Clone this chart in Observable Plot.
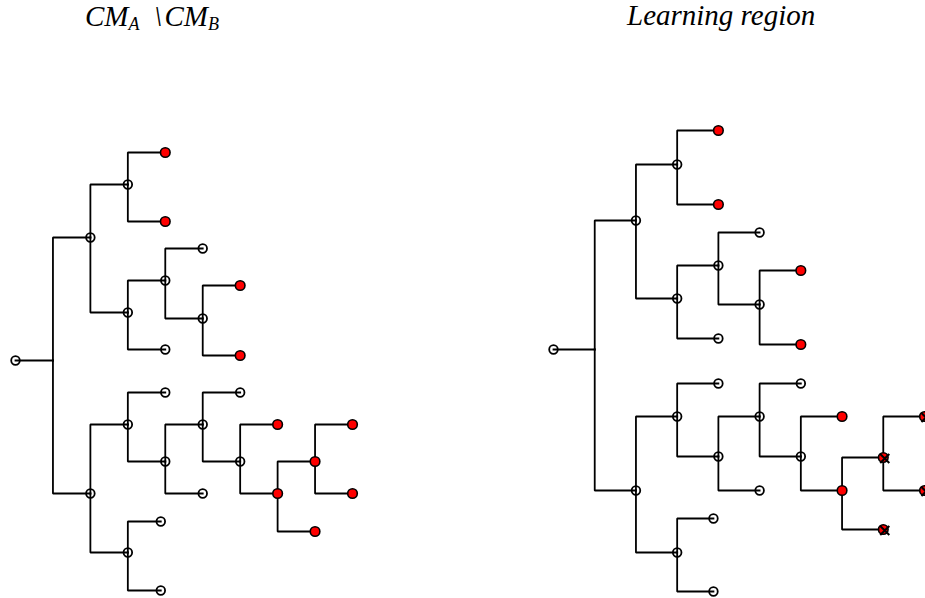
<!DOCTYPE html>
<html>
<head>
<meta charset="utf-8">
<script src="https://cdn.jsdelivr.net/npm/d3@7"></script>
<script src="https://cdn.jsdelivr.net/npm/@observablehq/plot@0.6"></script>
<style>
  html, body { margin: 0; padding: 0; background: #fff; overflow: hidden; }
  #wrap { display: flex; width: 925px; height: 598px; }
  .panel { position: relative; }
  .title { position: absolute; font-family: "Liberation Serif", "Times New Roman", serif; font-style: italic;
           font-size: 29px; line-height: 29px; white-space: nowrap; color: #000; }
  .title sub { font-size: 18px; vertical-align: -4px; line-height: 0; }
  .panel svg { display: block; overflow: visible; }
</style>
</head>
<body>
<div id="wrap"></div>
<script>
// Titles of the two panels
const titles = ["CM<sub>A</sub>&ensp;\\&#8202;CM<sub>B</sub>", "Learning region"];

// Tree nodes: [id, parent, depth, vertical position, kind]
// kind: "open" = hollow node, "red" = red node, "redx" = red node crossed out, "none" = hidden junction
const leftTree = [
  ["r", null, 0, 360, "open"],
  ["j", "r", 1, 360, "none"],
  ["A", "j", 2, 237, "open"],
  ["B", "j", 2, 493, "open"],
  ["AA", "A", 3, 184, "open"],
  ["AB", "A", 3, 312, "open"],
  ["AA1", "AA", 4, 152, "red"],
  ["AA2", "AA", 4, 221, "red"],
  ["ABA", "AB", 4, 280, "open"],
  ["AB2", "AB", 4, 349, "open"],
  ["ABA1", "ABA", 5, 248, "open"],
  ["ABAB", "ABA", 5, 318, "open"],
  ["ABAB1", "ABAB", 6, 285, "red"],
  ["ABAB2", "ABAB", 6, 355, "red"],
  ["BA", "B", 3, 424, "open"],
  ["BB", "B", 3, 552, "open"],
  ["BA1", "BA", 4, 392, "open"],
  ["BAB", "BA", 4, 461, "open"],
  ["BABA", "BAB", 5, 424, "open"],
  ["BAB2", "BAB", 5, 493, "open"],
  ["BABA1", "BABA", 6, 392, "open"],
  ["BABAB", "BABA", 6, 461, "open"],
  ["BABAB1", "BABAB", 7, 424, "red"],
  ["BABABB", "BABAB", 7, 493, "red"],
  ["BABABBA", "BABABB", 8, 461, "red"],
  ["BABABB2", "BABABB", 8, 531, "red"],
  ["BABABBA1", "BABABBA", 9, 424, "red"],
  ["BABABBA2", "BABABBA", 9, 493, "red"],
  ["BB1", "BB", 3.88, 521, "open"],
  ["BB2", "BB", 3.88, 590, "open"]
];

const rightTree = [
  ["r", null, 0, 349, "open"],
  ["j", "r", 1, 349, "none"],
  ["A", "j", 2, 220, "open"],
  ["B", "j", 2, 490, "open"],
  ["AA", "A", 3, 164, "open"],
  ["AB", "A", 3, 298, "open"],
  ["AA1", "AA", 4, 130, "red"],
  ["AA2", "AA", 4, 204, "red"],
  ["ABA", "AB", 4, 265, "open"],
  ["AB2", "AB", 4, 338, "open"],
  ["ABA1", "ABA", 5, 232, "open"],
  ["ABAB", "ABA", 5, 304, "open"],
  ["ABAB1", "ABAB", 6, 270, "red"],
  ["ABAB2", "ABAB", 6, 344, "red"],
  ["BA", "B", 3, 416, "open"],
  ["BB", "B", 3, 552, "open"],
  ["BA1", "BA", 4, 383, "open"],
  ["BAB", "BA", 4, 456, "open"],
  ["BABA", "BAB", 5, 416, "open"],
  ["BAB2", "BAB", 5, 490, "open"],
  ["BABA1", "BABA", 6, 383, "open"],
  ["BABAB", "BABA", 6, 456, "open"],
  ["BABAB1", "BABAB", 7, 416, "red"],
  ["BABABB", "BABAB", 7, 490, "red"],
  ["BABABBA", "BABABB", 8, 457, "redx"],
  ["BABABB2", "BABABB", 8, 529, "redx"],
  ["BABABBA1", "BABABBA", 9, 416, "redx"],
  ["BABABBA2", "BABABBA", 9, 490, "redx"],
  ["BB1", "BB", 3.88, 518, "open"],
  ["BB2", "BB", 3.88, 591, "open"]
];

const TITLE_H = 48;
const panels = [
  {tree: leftTree, title: titles[0], width: 462, xRange: [15, 352], titleLeft: 85, titleTop: 2},
  {tree: rightTree, title: titles[1], width: 463, xRange: [91, 462], titleLeft: 165, titleTop: 1}
];

const wrap = document.getElementById("wrap");
for (const p of panels) {
  const nodes = p.tree.map(([id, parent, depth, y, kind]) => ({id, parent, depth, y, kind}));
  const byId = new Map(nodes.map(d => [d.id, d]));
  const edges = nodes.filter(d => d.parent).map(d => ({
    px: byId.get(d.parent).depth, py: byId.get(d.parent).y, x: d.depth, y: d.y
  }));
  const open = nodes.filter(d => d.kind === "open");
  const red = nodes.filter(d => d.kind === "red" || d.kind === "redx");
  const crossed = nodes.filter(d => d.kind === "redx");

  const chart = Plot.plot({
    width: p.width,
    height: 598 - TITLE_H,
    margin: 0,
    x: {domain: [0, 9], range: p.xRange, axis: null},
    y: {domain: [TITLE_H, 598], range: [0, 598 - TITLE_H], axis: null},
    marks: [
      Plot.link(edges, {x1: "px", y1: "py", x2: "x", y2: "y", curve: "step-before",
                        stroke: "black", strokeWidth: 1.8, strokeLinecap: "square"}),
      Plot.dot(open, {x: "depth", y: "y", r: 4.3, fill: "none", stroke: "black", strokeWidth: 1.8}),
      Plot.dot(red, {x: "depth", y: "y", r: 4.8, fill: "red", stroke: "black", strokeWidth: 1.6}),
      Plot.dot(crossed, {x: "depth", y: "y", symbol: "times", r: 4.2,
                         dx: 1.5, dy: 1, stroke: "black", strokeWidth: 2})
    ]
  });

  const panel = document.createElement("div");
  panel.className = "panel";
  panel.style.width = p.width + "px";
  panel.style.paddingTop = TITLE_H + "px";
  const t = document.createElement("div");
  t.className = "title";
  t.style.left = p.titleLeft + "px";
  t.style.top = p.titleTop + "px";
  t.innerHTML = p.title;
  panel.appendChild(t);
  panel.appendChild(chart);
  wrap.appendChild(panel);
}
</script>
</body>
</html>
